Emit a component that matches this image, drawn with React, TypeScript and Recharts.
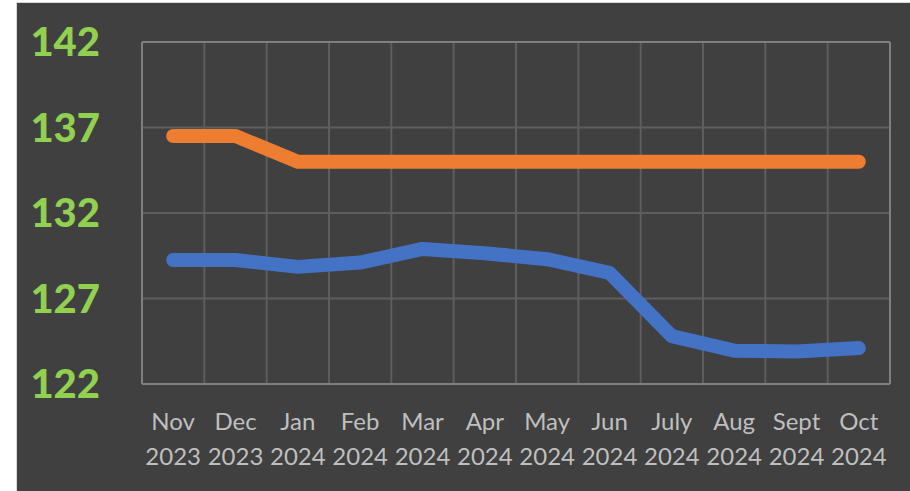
import { LineChart, Line, XAxis, YAxis, CartesianGrid } from "recharts";

const months = ["Nov 2023", "Dec 2023", "Jan 2024", "Feb 2024", "Mar 2024", "Apr 2024", "May 2024", "Jun 2024", "July 2024", "Aug 2024", "Sept 2024", "Oct 2024"];
const orangeSeries = [136.5, 136.5, 135, 135, 135, 135, 135, 135, 135, 135, 135, 135];
const blueSeries = [129.25, 129.25, 128.85, 129.1, 129.9, 129.65, 129.3, 128.5, 124.8, 123.95, 123.9, 124.1];
const yTicks = [122, 127, 132, 137, 142];

const data = months.map((m, i) => ({ month: m, orange: orangeSeries[i], blue: blueSeries[i] }));

const W = 893;
const H = 488;

// category boundaries for the vertical grid (excel draws lines between categories)
const bandLines = ({ offset }: any) => {
  const step = offset.width / months.length;
  return months.map((_, i) => offset.left + i * step).concat(offset.left + offset.width);
};

const XTick = ({ x, y, payload }: any) => {
  const [mon, yr] = String(payload.value).split(" ");
  return (
    <text x={x} y={y} textAnchor="middle" fill="#bfbfbf" fontSize={24} fontFamily="Lato, 'Open Sans', sans-serif">
      <tspan x={x} dy={38}>{mon}</tspan>
      <tspan x={x} dy={35}>{yr}</tspan>
    </text>
  );
};

export default function App() {
  return (
    <div>
      <style>{`body{margin:0;background:#fff}`}</style>
      <div
        style={{
          position: "absolute",
          left: 16,
          top: 2,
          width: W + 1,
          height: H + 1,
          background: "#404040",
          borderLeft: "1px solid #d9d9d9",
          borderTop: "1px solid #d9d9d9",
        }}
      >
        <LineChart width={W} height={H} data={data} margin={{ top: 39, right: 20, left: 0, bottom: 0 }}>
          <CartesianGrid stroke="#5e5e5e" strokeWidth={2} verticalCoordinatesGenerator={bandLines} />
          <CartesianGrid
            stroke="#7f7f7f"
            strokeWidth={2}
            fill="none"
            horizontalCoordinatesGenerator={({ offset }: any) => [offset.top, offset.top + offset.height]}
            verticalCoordinatesGenerator={({ offset }: any) => [offset.left, offset.left + offset.width]}
          />
          <XAxis
            dataKey="month"
            scale="band"
            height={107}
            axisLine={false}
            tickLine={false}
            interval={0}
            tick={<XTick />}
          />
          <YAxis
            width={125}
            domain={[122, 142]}
            ticks={yTicks}
            axisLine={false}
            tickLine={false}
            tickSize={0}
            tickMargin={42}
            tick={{ fill: "#92d050", fontSize: 40, fontWeight: 900, fontFamily: "Lato, 'Open Sans', sans-serif" }}
          />
          <Line
            dataKey="orange"
            stroke="#ed7d31"
            strokeWidth={14}
            strokeLinecap="round"
            strokeLinejoin="round"
            dot={false}
            activeDot={false}
            isAnimationActive={false}
          />
          <Line
            dataKey="blue"
            stroke="#4472c4"
            strokeWidth={14}
            strokeLinecap="round"
            strokeLinejoin="round"
            dot={false}
            activeDot={false}
            isAnimationActive={false}
          />
        </LineChart>
      </div>
    </div>
  );
}
